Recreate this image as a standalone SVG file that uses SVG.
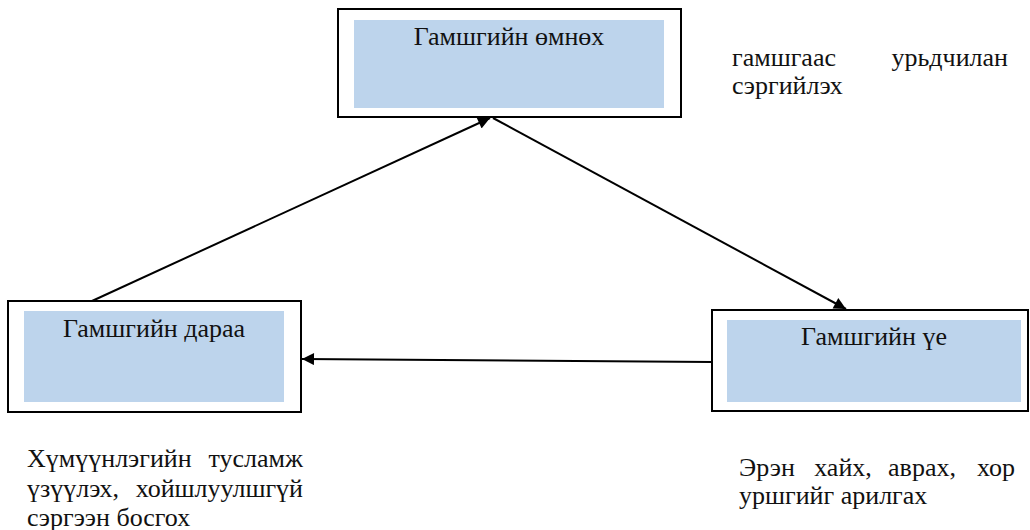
<svg xmlns="http://www.w3.org/2000/svg" width="1030" height="530" viewBox="0 0 1030 530">
<style>
.outer{fill:#fff;stroke:#000;stroke-width:2}
.inner{fill:#bdd4ec;stroke:none}
text{font-family:"Liberation Serif","Times New Roman",serif;font-size:26px;fill:#111}
.c{text-anchor:middle}
.e{text-anchor:end}
.conn{stroke:#000;stroke-width:2;fill:none;marker-end:url(#ah)}
</style>
<defs>
<marker id="ah" viewBox="0 0 10 10" refX="10" refY="5" markerWidth="14" markerHeight="12" markerUnits="userSpaceOnUse" orient="auto">
<path d="M0,0 L10,5 L0,10 z" fill="#000"/>
</marker>
</defs>
<g id="connectors">
<line class="conn" x1="92" y1="301" x2="490" y2="118"/>
<line class="conn" x1="493" y1="118" x2="846" y2="309"/>
<line class="conn" x1="712" y1="362" x2="302" y2="359"/>
</g>
<g id="node-before">
<rect class="outer" x="338" y="9" width="343" height="108"/>
<rect class="inner" x="354" y="20" width="310" height="88"/>
<text class="c" x="509" y="45">Гамшгийн өмнөх</text>
</g>
<g id="node-after">
<rect class="outer" x="8" y="301" width="293" height="111"/>
<rect class="inner" x="24" y="311" width="260" height="91"/>
<text class="c" x="154" y="337">Гамшгийн дараа</text>
</g>
<g id="node-during">
<rect class="outer" x="712" y="310" width="316" height="101"/>
<rect class="inner" x="727" y="320" width="294" height="82"/>
<text class="c" x="874" y="345">Гамшгийн үе</text>
</g>
<g id="note-before">
<text x="732" y="66">гамшгаас</text>
<text class="e" x="1008" y="66">урьдчилан</text>
<text x="732" y="94">сэргийлэх</text>
</g>
<g id="note-after">
<text x="27" y="467">Хүмүүнлэгийн</text>
<text class="e" x="303" y="467">тусламж</text>
<text x="27" y="497">үзүүлэх,</text>
<text class="e" x="303" y="497">хойшлуулшгүй</text>
<text x="27" y="526">сэргээн босгох</text>
</g>
<g id="note-during">
<text x="739" y="476">Эрэн</text>
<text class="c" x="843" y="476">хайх,</text>
<text class="c" x="922" y="476">аврах,</text>
<text class="e" x="1015" y="476">хор</text>
<text x="739" y="504">уршгийг арилгах</text>
</g>
</svg>
